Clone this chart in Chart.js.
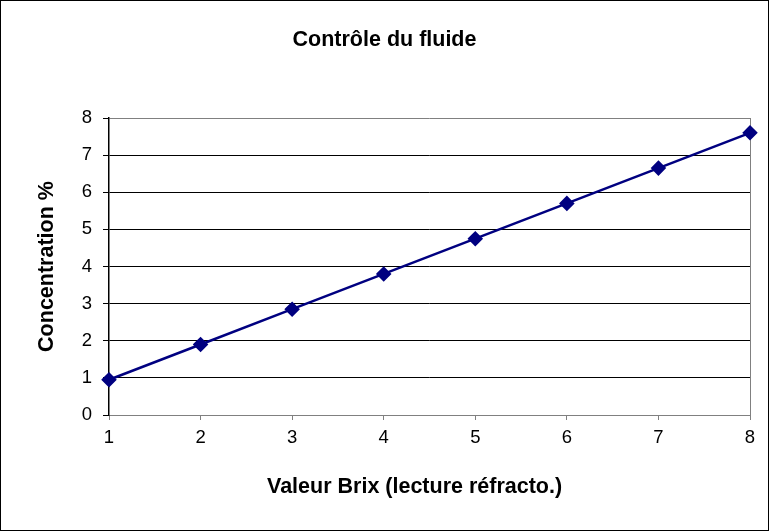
<!DOCTYPE html>
<html>
<head>
<meta charset="utf-8">
<script src="https://cdn.jsdelivr.net/npm/chart.js@4/dist/chart.umd.min.js"></script>
<style>
  html, body { margin: 0; padding: 0; background: #fff; }
</style>
</head>
<body>
<canvas id="chart" width="769" height="531"></canvas>
<script>
const chartTitle = 'Contrôle du fluide'
const xTitle = 'Valeur Brix (lecture réfracto.)'
const yTitle = 'Concentration %'
const brixValues = [1, 2, 3, 4, 5, 6, 7, 8]
const concentration = [0.95, 1.9, 2.85, 3.8, 4.75, 5.7, 6.65, 7.6]

const frame = {
  id: 'frame',
  beforeDraw(chart) {
    const ctx = chart.ctx
    ctx.save()
    ctx.fillStyle = '#fff'
    ctx.fillRect(0, 0, chart.width, chart.height)
    ctx.restore()
  },
  afterDraw(chart) {
    const ctx = chart.ctx
    ctx.save()
    ctx.strokeStyle = '#000'
    ctx.lineWidth = 1
    ctx.strokeRect(0.5, 0.5, chart.width - 1, chart.height - 1)
    ctx.restore()
  }
}

const gray = '#808080'
const fontFamily = 'Liberation Sans, Arial, sans-serif'

new Chart(document.getElementById('chart'), {
  type: 'line',
  data: {
    datasets: [{
      data: brixValues.map((x, i) => ({ x: x, y: concentration[i] })),
      borderColor: '#000080',
      backgroundColor: '#000080',
      borderWidth: 2.5,
      pointStyle: 'rectRot',
      pointRadius: 6,
      pointHoverRadius: 6,
      tension: 0,
      clip: false
    }]
  },
  options: {
    responsive: false,
    animation: false,
    devicePixelRatio: 1,
    layout: { padding: 0 },
    plugins: {
      legend: { display: false },
      tooltip: { enabled: false },
      title: {
        display: true,
        text: chartTitle,
        color: '#000',
        font: { family: fontFamily, size: 21.5, weight: 'bold' },
        padding: { top: 27, bottom: 65.2 }
      }
    },
    scales: {
      x: {
        type: 'linear',
        min: 1,
        max: 8,
        afterFit(scale) {
          scale.height = 116
          scale.paddingRight = 19
        },
        ticks: {
          stepSize: 1,
          color: '#000',
          padding: 7,
          maxRotation: 0,
          font: { family: fontFamily, size: 18.5 }
        },
        grid: {
          color: ctx => (ctx.tick && ctx.tick.value === 8 ? gray : 'rgba(0,0,0,0)'),
          tickColor: gray,
          tickLength: 5,
          lineWidth: 1
        },
        border: { color: gray, width: 1 },
        title: {
          display: true,
          // trailing spaces nudge the centred title left, like the original
          text: xTitle + '\u00a0\u00a0\u00a0\u00a0\u00a0',
          color: '#000',
          font: { family: fontFamily, size: 21.5, weight: 'bold' },
          padding: { top: 0, bottom: 31.2 }
        }
      },
      y: {
        type: 'linear',
        min: 0,
        max: 8,
        afterFit(scale) {
          scale.width = 109
        },
        ticks: {
          stepSize: 1,
          color: '#000',
          padding: 11,
          font: { family: fontFamily, size: 18.5 }
        },
        grid: {
          color: ctx => (ctx.tick && (ctx.tick.value === 8 || ctx.tick.value === 0) ? gray : '#000'),
          tickColor: '#000',
          tickLength: 6,
          lineWidth: 1
        },
        border: { color: '#000', width: 1.5 },
        title: {
          display: true,
          text: yTitle,
          color: '#000',
          font: { family: fontFamily, size: 21.5, weight: 'bold' },
          padding: { top: 34, bottom: 0 }
        }
      }
    }
  },
  plugins: [frame]
})
</script>
</body>
</html>
